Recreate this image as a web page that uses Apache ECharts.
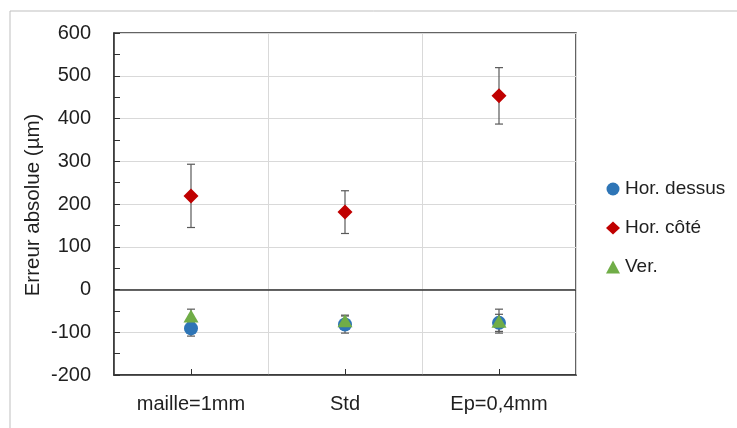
<!DOCTYPE html>
<html>
<head>
<meta charset="utf-8">
<script src="https://cdn.jsdelivr.net/npm/echarts@6/dist/echarts.min.js"></script>
<style>
html,body{margin:0;padding:0;background:#fff;}
#chart{width:737px;height:428px;}
</style>
</head>
<body>
<div id="chart"></div>
<script>
var categories = ['maille=1mm', 'Std', 'Ep=0,4mm'];
var yTicks = [-200, -100, 0, 100, 200, 300, 400, 500, 600];

var horDessus = [-91, -82, -78];
var horDessusErr = [18, 20, 20];

var horCote = [219, 181, 453];
var horCoteErr = [74, 50, 66];

var ver = [-62, -73, -74];
var verErr = [16, 13, 28];

var FONT = '"Liberation Sans", Arial, sans-serif';
var TXT = '#1f1f1f';

function errData(vals, errs) {
  return vals.map(function (v, i) { return [i, v - errs[i], v + errs[i]]; });
}

function errSeries(name, vals, errs) {
  return {
    type: 'custom',
    name: name + ' err',
    z: 1,
    silent: true,
    data: errData(vals, errs),
    renderItem: function (params, api) {
      var lo = api.coord([api.value(0), api.value(1)]);
      var hi = api.coord([api.value(0), api.value(2)]);
      var w = 4;
      var style = { stroke: '#595959', lineWidth: 1.2 };
      return {
        type: 'group',
        children: [
          { type: 'line', shape: { x1: lo[0], y1: lo[1], x2: hi[0], y2: hi[1] }, style: style },
          { type: 'line', shape: { x1: lo[0] - w, y1: lo[1], x2: lo[0] + w, y2: lo[1] }, style: style },
          { type: 'line', shape: { x1: hi[0] - w, y1: hi[1], x2: hi[0] + w, y2: hi[1] }, style: style }
        ]
      };
    }
  };
}

var chart = echarts.init(document.getElementById('chart'), null, { renderer: 'canvas' });

chart.setOption({
  animation: false,
  backgroundColor: '#fff',
  textStyle: { fontFamily: FONT },
  grid: {
    left: 114, right: 161, top: 33, bottom: 53,
    show: true, borderColor: '#303030', borderWidth: 1.5, backgroundColor: 'transparent'
  },
  legend: {
    orient: 'vertical',
    left: 601,
    top: 174,
    itemWidth: 14,
    itemHeight: 13,
    itemGap: 19,
    data: [
      { name: 'Hor. dessus', icon: 'circle' },
      { name: 'Hor. côté', icon: 'diamond' },
      { name: 'Ver.', icon: 'triangle' }
    ],
    textStyle: { fontFamily: FONT, fontSize: 19, color: TXT, lineHeight: 20 }
  },
  xAxis: {
    type: 'category',
    data: categories,
    boundaryGap: true,
    axisLine: { show: true, onZero: false, lineStyle: { color: '#303030', width: 1.5 } },
    axisTick: { show: true, inside: true, alignWithLabel: true, length: 6, lineStyle: { color: '#303030' } },
    axisLabel: { fontFamily: FONT, fontSize: 20, color: TXT, margin: 19 },
    splitLine: { show: true, lineStyle: { color: '#d9d9d9', width: 1 } }
  },
  yAxis: {
    type: 'value',
    min: -200, max: 600, interval: 100,
    axisLine: { show: true, lineStyle: { color: '#303030', width: 1.5 } },
    axisTick: { show: true, inside: true, length: 6, lineStyle: { color: '#303030' } },
    minorTick: { show: true, splitNumber: 2, length: 6, lineStyle: { color: '#303030' } },
    axisLabel: {
      fontFamily: FONT, fontSize: 20, color: TXT, margin: 23,
      formatter: function (v) { return yTicks.indexOf(v) >= 0 ? String(v) : ''; }
    },
    splitLine: { show: true, lineStyle: { color: '#d9d9d9', width: 1 } }
  },
  graphic: [
    { type: 'line', silent: true, shape: { x1: 10, y1: 11, x2: 737, y2: 11 }, style: { stroke: '#bfbfbf', lineWidth: 1 } },
    { type: 'line', silent: true, shape: { x1: 10, y1: 11, x2: 10, y2: 428 }, style: { stroke: '#bfbfbf', lineWidth: 1 } },
    {
      type: 'text',
      x: 33, y: 205,
      rotation: Math.PI / 2,
      style: {
        text: 'Erreur absolue (µm)', font: '20.5px ' + FONT, fill: TXT,
        textAlign: 'center', textVerticalAlign: 'middle', align: 'center', verticalAlign: 'middle'
      }
    }
  ],
  series: [
    errSeries('Hor. dessus', horDessus, horDessusErr),
    errSeries('Hor. côté', horCote, horCoteErr),
    errSeries('Ver.', ver, verErr),
    {
      name: 'Hor. dessus', type: 'scatter', z: 3,
      symbol: 'circle', symbolSize: 14,
      itemStyle: { color: '#2E75B6', opacity: 1 },
      data: horDessus,
      markLine: {
        silent: true, symbol: 'none', label: { show: false },
        lineStyle: { color: '#303030', width: 1.5, type: 'solid' },
        data: [{ yAxis: 0 }]
      }
    },
    {
      name: 'Hor. côté', type: 'scatter', z: 3,
      symbol: 'diamond', symbolSize: 15,
      itemStyle: { color: '#C00000', opacity: 1 },
      data: horCote
    },
    {
      name: 'Ver.', type: 'scatter', z: 4,
      symbol: 'triangle', symbolSize: [15, 13],
      itemStyle: { color: '#70AD47', opacity: 1 },
      data: ver
    }
  ]
});
</script>
</body>
</html>
